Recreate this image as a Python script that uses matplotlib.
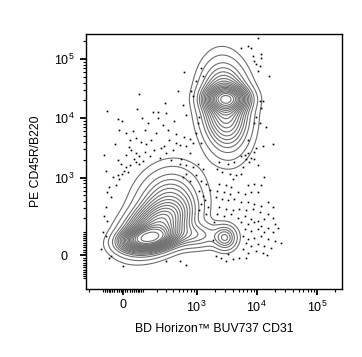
import numpy as np
import matplotlib
matplotlib.use("Agg")
import matplotlib.pyplot as plt
from matplotlib.ticker import FixedLocator, FixedFormatter, NullFormatter

plt.rcParams['font.family'] = ['Liberation Sans', 'DejaVu Sans']

# biexponential-like display: t = asinh(v / c) / ln(10), one unit = one decade
CX = 120.0
CY = 100.0
XLIM = (-233, 262143)
YLIM = (-173, 262143)

# populations, positions and spreads in display decades
pop_mx = [0.42, 0.55, 0.74, 1.20, 1.70, 1.72, 1.70]
pop_my = [0.28, 0.48, 0.88, 0.33, 0.29, 2.63, 2.48]
pop_sx = [0.24, 0.30, 0.30, 0.28, 0.11, 0.20, 0.22]
pop_sy = [0.11, 0.24, 0.33, 0.13, 0.12, 0.12, 0.40]
pop_rho = [0.25, 0.40, 0.15, 0.0, 0.0, 0.0, -0.10]
pop_w = [0.16, 0.26, 0.14, 0.03, 0.015, 0.09, 0.26]

# probability levels of the contours (fraction of events enclosed)
contour_probs = [0.98, 0.95, 0.90, 0.85, 0.80, 0.75, 0.70, 0.65, 0.60, 0.55,
                 0.50, 0.45, 0.40, 0.35, 0.30, 0.25, 0.20, 0.15, 0.10, 0.05]

# outlier events shown as dots (display decades)
evt_x_dec = [1.02, 0.27, 0.91, 0.69, 1.00, -0.26, 0.24, 0.49, 0.58, 0.72, 1.05, -0.09, -0.01,
             0.58, 0.41, 0.16, 0.36, 0.66, 0.74, 0.55, 0.88, 1.02, -0.06, 0.05, 0.11, 0.22,
             0.30, 0.47, 0.77, 0.88, -0.31, -0.09, 0.05, 0.13, 0.22, 0.27, 0.36, 0.44, 0.52,
             0.63, 0.72, 0.83, 0.94, 1.05, 1.11, 1.16, 1.22, 1.25, 1.13, 1.16, 1.22, 1.30,
             1.33, 1.27, 1.30,
             2.24, 1.96, 2.07, 2.13, 2.16, 2.29, 2.29, 2.18, 2.21, 2.27, 2.24, 2.43, 2.27,
             2.32, 2.29, 2.21, 2.18, 2.27, 2.38, 2.07, 2.49, 2.32, 2.21, 2.18, 2.07, 2.02,
             2.13, 2.18, 1.96, 2.05,
             -0.09, -0.17, -0.06, -0.23, -0.26, -0.20, -0.12, -0.01, 0.05, -0.03, 0.11, 0.22,
             0.27, 0.02, 0.08, 0.94, 1.05, 1.16, 1.25, 1.33, 1.05, 1.22, 1.11, 1.30, 1.38,
             1.00, 1.27, 1.33, 1.36, 1.30, 1.41, 1.27, 1.38, -0.28, -0.31, -0.26, -0.34,
             -0.28, -0.23, -0.20, 0.94, 1.05, 0.72, -0.28,
             1.60, 1.74, 1.85, 1.99, 2.10, 2.24, 1.57, 1.65, 1.77, 1.88, 1.96, 1.82, 2.35,
             1.60, 1.71, 1.80, 2.07, 2.18, 2.29, 1.57, 1.68, 1.77, 1.91, 2.02, 2.13, 2.24,
             1.55, 1.65, 1.74, 1.85, 1.96, 2.07, 2.18, 2.29, 2.41, 2.49, 1.60, 1.71, 1.82,
             1.93, 2.04, 2.16, 2.27, 2.41, 1.57, 1.68, 1.80, 1.91, 2.02, 2.13, 2.24, 2.35,
             2.49, 1.96, 2.07, 2.18, 2.29, 2.41, 2.52, 2.02, 2.13, 2.24, 2.35, 2.49, 1.99,
             2.07, 2.18, 2.29, 2.41, 2.52, 2.04, 2.13, 2.24, 2.35, 2.46, 1.99, 2.07, 2.21,
             2.32, 1.55, 1.63, 1.71, 1.82, 1.93, 2.04, 1.74,
             0.19, 0.33, 0.61, 0.80, 0.97, 0.10, 0.39, 0.68, 0.85, 1.12, -0.14, 0.31, 1.45,
             1.52, 2.58, 2.62, 2.40, 1.49, 0.00, -0.36]
evt_y_dec = [3.08, 2.71, 2.76, 2.56, 2.53, 2.42, 2.46, 2.40, 2.41, 2.39, 2.36, 2.29, 2.25,
             2.31, 2.22, 2.08, 2.11, 2.19, 2.11, 2.05, 2.03, 1.99, 2.11, 2.05, 1.94, 1.97,
             1.91, 1.93, 1.93, 1.88, 1.68, 1.60, 1.68, 1.77, 1.71, 1.66, 1.74, 1.66, 1.77,
             1.80, 1.71, 1.77, 1.85, 1.83, 1.71, 1.88, 2.05, 2.22, 2.76, 2.67, 2.93, 3.15,
             3.01, 2.33, 1.88,
             3.65, 3.49, 3.52, 3.49, 3.35, 3.38, 3.32, 3.27, 3.21, 3.18, 3.10, 3.01, 2.59,
             2.59, 2.47, 2.33, 2.23, 2.22, 2.15, 1.94, 1.86, 1.83, 1.80, 1.74, 1.71, 1.68,
             1.63, 1.62, 1.66, 1.62,
             1.34, 1.31, 1.28, 1.14, 1.06, 0.97, 1.17, 1.37, 1.48, 1.54, 1.51, 1.56,
             1.54, 1.42, 1.39, 1.54, 1.51, 1.48, 1.54, 1.45, 1.37, 1.34, 1.25, 1.25, 1.20,
             1.31, 1.08, 0.99, 0.92, 0.86, 0.80, 0.75, 0.69, 0.80, 0.66, 0.58, 0.38,
             0.32, -0.05, -0.02, -0.10, -0.16, -0.10, 1.42,
             1.56, 1.54, 1.56, 1.48, 1.56, 1.51, 1.45, 1.39, 1.37, 1.34, 1.37, 1.28, 1.31,
             1.20, 1.17, 1.14, 1.17, 1.20, 1.17, 1.08, 1.06, 1.03, 1.06, 1.03, 1.06, 1.06,
             0.97, 0.94, 0.92, 0.94, 0.89, 0.89, 0.86, 0.83, 0.89, 0.80, 0.80, 0.77, 0.75,
             0.77, 0.75, 0.77, 0.72, 0.69, 0.69, 0.66, 0.69, 0.63, 0.66, 0.61, 0.58, 0.61,
             0.63, 0.55, 0.52, 0.55, 0.49, 0.46, 0.52, 0.44, 0.41, 0.44, 0.38, 0.38, 0.32,
             0.27, 0.29, 0.32, 0.27, 0.24, 0.21, 0.15, 0.18, 0.15, 0.12, 0.10, 0.04, 0.07,
             0.04, -0.02, -0.05, -0.10, -0.07, -0.05, -0.05, 0.01,
             1.62, 1.58, 1.63, 1.60, 1.62, 1.82, 1.86, 1.84, 2.25, 1.95, 1.87, 2.30, 1.10,
             0.55, 0.45, 0.20, 0.00, 0.25, -0.18, 0.10]

x_major = [0, 1e3, 1e4, 1e5]
x_major_labels = ['0', r'$\mathregular{10^3}$', r'$\mathregular{10^4}$', r'$\mathregular{10^5}$']
y_major = [0, 1e3, 1e4, 1e5]
y_major_labels = ['0', r'$\mathregular{10^3}$', r'$\mathregular{10^4}$', r'$\mathregular{10^5}$']


def fwd_x(v):
    return np.arcsinh(np.asarray(v, dtype=float) / CX) / np.log(10)


def inv_x(t):
    return CX * np.sinh(np.asarray(t, dtype=float) * np.log(10))


def fwd_y(v):
    return np.arcsinh(np.asarray(v, dtype=float) / CY) / np.log(10)


def inv_y(t):
    return CY * np.sinh(np.asarray(t, dtype=float) * np.log(10))


def minor_ticks(lo, hi):
    vals = []
    for k in range(1, 6):
        for m in range(1, 10):
            v = m * 10 ** k
            if k >= 3 and m == 1:
                continue
            vals += [v, -v]
    vals += list(range(10, 100, 10)) + list(range(-90, 0, 10))
    return sorted(v for v in vals if lo <= v <= hi)


# density on a grid regular in display units
tx = np.linspace(fwd_x(XLIM[0]), fwd_x(XLIM[1]), 400)
ty = np.linspace(fwd_y(YLIM[0]), fwd_y(YLIM[1]), 400)
TX, TY = np.meshgrid(tx, ty)
dens = np.zeros_like(TX)
for mx, my, sx, sy, r, w in zip(pop_mx, pop_my, pop_sx, pop_sy, pop_rho, pop_w):
    u = (TX - mx) / sx
    v = (TY - my) / sy
    q = (u * u - 2 * r * u * v + v * v) / (1 - r * r)
    dens += w / (2 * np.pi * sx * sy * np.sqrt(1 - r * r)) * np.exp(-0.5 * q)

z_sorted = np.sort(dens.ravel())[::-1]
cum = np.cumsum(z_sorted)
cum /= cum[-1]
levels = sorted(z_sorted[np.searchsorted(cum, p)] for p in contour_probs)

fig = plt.figure(figsize=(3.62, 3.57), dpi=100)
ax = fig.add_axes([0.2376, 0.1905, 0.7072, 0.7143])
ax.set_xscale('function', functions=(fwd_x, inv_x))
ax.set_yscale('function', functions=(fwd_y, inv_y))

ax.contour(inv_x(TX), inv_y(TY), dens, levels=levels, colors='#6e6e6e', linewidths=0.8)
ax.plot(inv_x(evt_x_dec), inv_y(evt_y_dec), 's', color='black', markersize=1.2,
        markeredgewidth=0, linestyle='none')

ax.set_xlim(XLIM)
ax.set_ylim(YLIM)

ax.xaxis.set_major_locator(FixedLocator(x_major))
ax.xaxis.set_major_formatter(FixedFormatter(x_major_labels))
ax.xaxis.set_minor_locator(FixedLocator(minor_ticks(*XLIM)))
ax.xaxis.set_minor_formatter(NullFormatter())
ax.yaxis.set_major_locator(FixedLocator(y_major))
ax.yaxis.set_major_formatter(FixedFormatter(y_major_labels))
ax.yaxis.set_minor_locator(FixedLocator(minor_ticks(*YLIM)))
ax.yaxis.set_minor_formatter(NullFormatter())

ax.tick_params(which='major', length=4.5, width=1.3, labelsize=9, color='black')
ax.tick_params(which='minor', length=2.5, width=0.8, color='black')
ax.tick_params(axis='x', which='major', pad=3)
ax.tick_params(axis='y', which='major', pad=11)
for lab in ax.get_yticklabels():
    lab.set_horizontalalignment('center')
for sp in ax.spines.values():
    sp.set_linewidth(1.0)

ax.set_xlabel('BD Horizon™ BUV737 CD31', fontsize=8.8, labelpad=6)
ax.set_ylabel('PE CD45R/B220', fontsize=8.8, labelpad=9)

fig.savefig('out.png', dpi=100)
